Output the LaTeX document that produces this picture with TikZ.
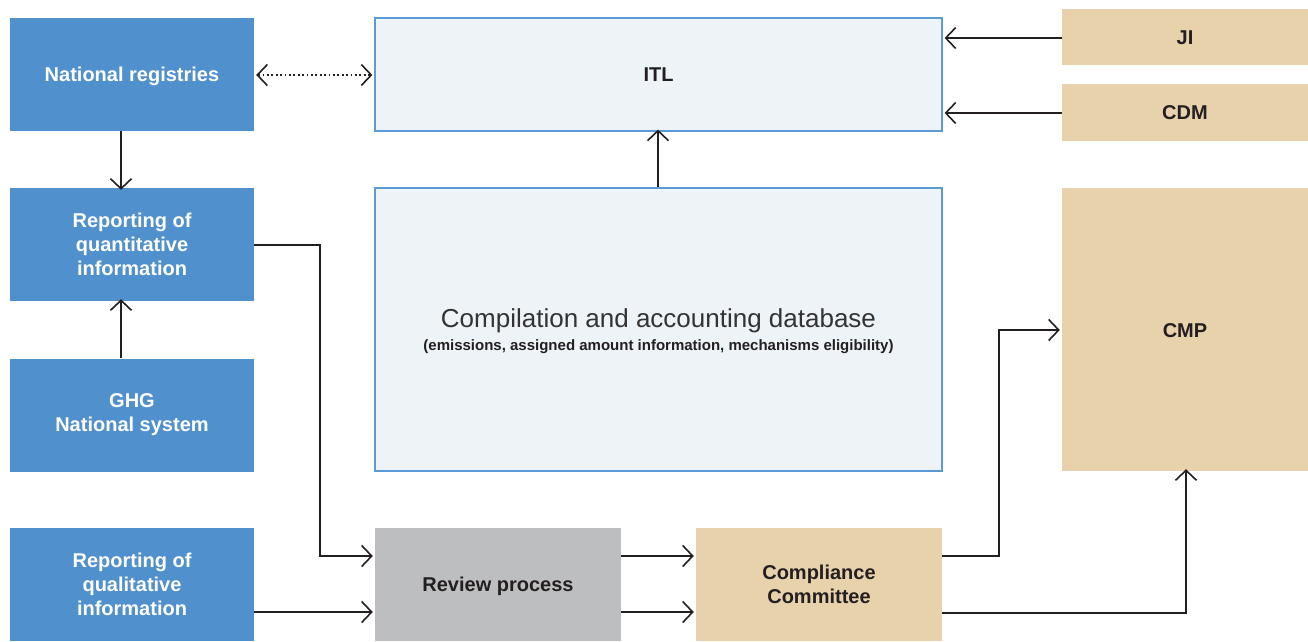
\documentclass[tikz,border=0pt]{standalone}
\usepackage{fontspec}
\setmainfont{Liberation Sans}
\usetikzlibrary{arrows.meta}
\definecolor{bluebox}{HTML}{5090CD}
\definecolor{lightbox}{HTML}{EEF3F8}
\definecolor{lightborder}{HTML}{5B9BD5}
\definecolor{graybox}{HTML}{BDBEC0}
\definecolor{tanbox}{HTML}{E8D2AC}
\definecolor{darktext}{HTML}{231F20}
\definecolor{titletext}{HTML}{333333}
\begin{document}
\begin{tikzpicture}[x=1pt,y=-1pt,
  box/.style={minimum width=#1, inner sep=0pt, align=center, font=\fontsize{20}{24}\selectfont\bfseries},
  oneline/.style={text height=14.4pt, text depth=0pt},
  bluenode/.style={box=244pt, fill=bluebox, text=white, minimum height=113pt},
  lightnode/.style={box=567pt, fill=lightbox, draw=lightborder, line width=1.2pt, text=darktext},
  graynode/.style={box=246pt, fill=graybox, text=darktext, minimum height=113pt},
  tannode/.style={box=246pt, fill=tanbox, text=darktext},
  tip/.tip={Straight Barb[length=10pt,width=21pt,line width=1.6pt]},
  conn/.style={draw=darktext, line width=1.5pt, -tip},
  dconn/.style={draw=darktext, line width=1.8pt, dash pattern=on 1.8pt off 2.6pt, tip-tip}
]
\useasboundingbox (0,0) rectangle (1308,641);
% left column
\node[bluenode, oneline] (nr) at (132,74.5) {National registries};
\node[bluenode] (rq) at (132,244.5) {Reporting of\\quantitative\\information};
\node[bluenode] (ghg) at (132,415) {GHG\\National system};
\node[bluenode] (rql) at (132,584.5) {Reporting of\\qualitative\\information};
% middle
\node[lightnode, oneline, minimum height=113pt] (itl) at (658.5,74.5) {ITL};
\node[lightnode, minimum height=283pt] (cad) at (658.5,329.5) {};
\node[align=center] (cadt) at (658.5,331) {\color{titletext}\fontsize{26}{28}\selectfont Compilation and accounting database\\[6pt]
  \color{darktext}\fontsize{15}{17}\selectfont\bfseries (emissions, assigned amount information, mechanisms eligibility)};
\node[graynode, oneline] (rev) at (498,584.5) {Review process};
\node[tannode, minimum height=113pt] (cc) at (819,584.5) {Compliance\\Committee};
% right
\node[tannode, oneline, minimum height=56pt] (ji) at (1185,37) {JI};
\node[tannode, oneline, minimum height=57pt] (cdm) at (1185,112.5) {CDM};
\node[tannode, minimum height=283pt] (cmp) at (1185,329.5) {};
\node[text=darktext, oneline, inner sep=0pt, font=\fontsize{20}{24}\selectfont\bfseries] (cmpt) at (1185,330) {CMP};
% connectors
\draw[dconn] ([xshift=2pt]nr.east |- 0,75) -- ([xshift=-2pt]itl.west |- 0,75);
\draw[conn] (nr.south -| 121,0) -- ([yshift=-2pt]rq.north -| 121,0);
\draw[conn] (ghg.north -| 121,0) -- ([yshift=2pt]rq.south -| 121,0);
\coordinate (k1) at (320,245);
\coordinate (k2) at (320,556);
\draw[conn] (rq.east |- k1) -- (k1) -- (k2) -- ([xshift=-2pt]rev.west |- k2);
\draw[conn] (rql.east |- 0,612) -- ([xshift=-2pt]rev.west |- 0,612);
\draw[conn] (rev.east |- 0,556) -- ([xshift=-2pt]cc.west |- 0,556);
\draw[conn] (rev.east |- 0,612) -- ([xshift=-2pt]cc.west |- 0,612);
\draw[conn] (cad.north -| 658,0) -- ([yshift=2pt]itl.south -| 658,0);
\draw[conn] (ji.west |- 0,38) -- ([xshift=2pt]itl.east |- 0,38);
\draw[conn] (cdm.west |- 0,113) -- ([xshift=2pt]itl.east |- 0,113);
\coordinate (m1) at (999,556);
\coordinate (m2) at (999,330);
\draw[conn] (cc.east |- m1) -- (m1) -- (m2) -- ([xshift=-2pt]cmp.west |- m2);
\coordinate (n1) at (1186,613);
\draw[conn] (cc.east |- n1) -- (n1) -- ([yshift=2pt]cmp.south -| n1);
\end{tikzpicture}
\end{document}
